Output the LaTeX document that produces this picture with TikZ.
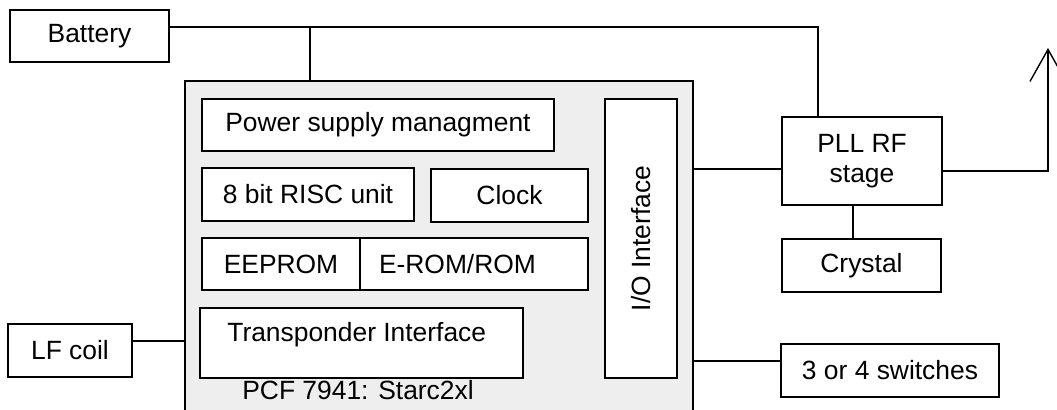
\documentclass[tikz,border=0pt]{standalone}
\usepackage{fontspec}
\setmainfont{Liberation Sans}
\usepackage{tikz}
\usetikzlibrary{arrows.meta, positioning}
\newcommand{\blkfont}{\fontsize{13.2}{15}\selectfont}

\begin{document}
\begin{tikzpicture}[x=0.5pt, y=-0.5pt, line width=0.7pt,
    blk/.style={rectangle, draw, fill=white, inner sep=0pt, align=center, font=\blkfont},
    wire/.style={draw, line width=0.7pt}
]
\useasboundingbox (0,0) rectangle (1057,410);

% chip outline
\node[blk, fill=gray!13, minimum width=254pt, minimum height=174pt] (chip) at (439,255) {};

% blocks inside the chip
\node[blk, minimum width=176pt, minimum height=26pt] (power) at (378,125) {Power supply managment};
\node[blk, minimum width=106pt, minimum height=26.5pt] (risc) at (308,194.5) {8 bit RISC unit};
\node[blk, minimum width=78.5pt, minimum height=26.5pt] (clock) at (509.5,195.5) {Clock};
\node[blk, minimum width=79pt, minimum height=26pt] (eeprom) at (281,264) {EEPROM};
\node[blk, align=left, text width=95pt, inner xsep=9.5pt, minimum height=26pt] (erom) at (474,264) {E-ROM/ROM};
\node[blk, minimum width=161.5pt, minimum height=35pt] (transp) at (361.5,343) {};
\node[anchor=base west, font=\blkfont] (transptext) at (220,342) {Transponder Interface};
\node[blk, minimum width=36pt, minimum height=139.5pt] (io) at (641,238.5) {};
\node[rotate=90, font=\blkfont] (iotext) at (io.center) {I/O Interface};
\node[anchor=base west, font=\blkfont] (chiplabel) at (235,400) {PCF 7941: Starc2xl};

% outside blocks
\node[blk, minimum width=79.5pt, minimum height=26pt] (battery) at (89.5,36) {Battery};
\node[blk, minimum width=80pt, minimum height=44pt] (pll) at (862,161) {PLL RF\\stage};
\node[blk, minimum width=79.5pt, minimum height=26.5pt] (crystal) at (861.5,265.5) {Crystal};
\node[blk, minimum width=109pt, minimum height=26.5pt] (switches) at (890,370.5) {3 or 4 switches};
\node[blk, minimum width=62pt, minimum height=26.5pt] (lfcoil) at (70,350.5) {LF coil};

% connections
\coordinate (bus) at (310,27);
\coordinate (ant) at (1048,48);
\draw[wire] (battery.east |- bus) -| ([xshift=-22pt]pll.north);
\draw[wire] (bus) -- (bus |- chip.north);
\draw[wire] (chip.east |- 0,169) -- (pll.west |- 0,169);
\draw[wire] (853,0 |- pll.south) -- (853,0 |- crystal.north);
\draw[wire, -{Straight Barb[length=16pt, width=18pt]}] (pll.east |- 0,171) -| (ant);
\draw[wire] (chip.east |- 0,361) -- (switches.west |- 0,361);
\draw[wire] (lfcoil.east |- 0,341) -- (chip.west |- 0,341);
\end{tikzpicture}
\end{document}
